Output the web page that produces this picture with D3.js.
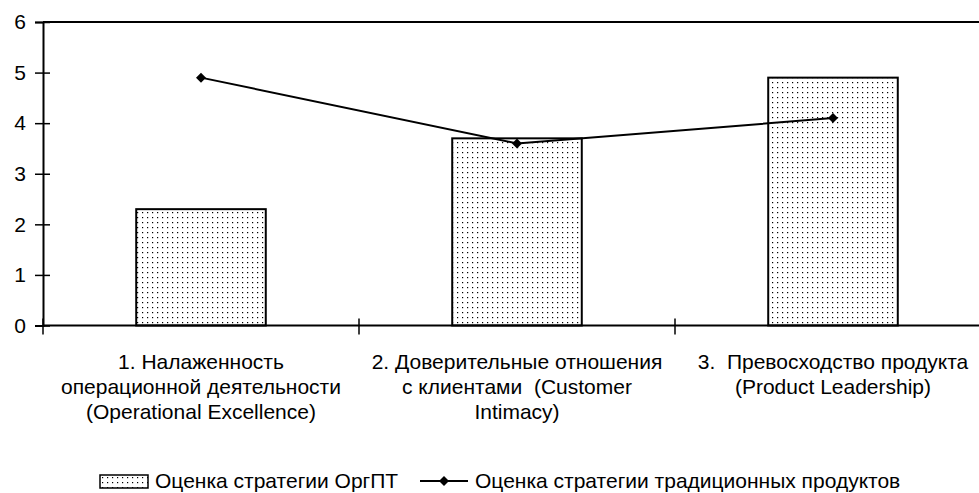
<!DOCTYPE html>
<html>
<head>
<meta charset="utf-8">
<script src="https://cdn.jsdelivr.net/npm/d3@7"></script>
<style>
  body { margin: 0; background: #fff; }
  svg { display: block; font-family: "Liberation Sans", Arial, sans-serif; }
  text { white-space: pre; }
</style>
</head>
<body>
<svg id="chart"></svg>
<script>
// data
var categories = ["cat1", "cat2", "cat3"];
var categoryLabels = [
    ["1. Налаженность", "операционной деятельности", "(Operational Excellence)"],
    ["2. Доверительные отношения", "с клиентами  (Customer", "Intimacy)"],
    ["3.  Превосходство продукта", "(Product Leadership)"]
];
var orgptValues = [2.3, 3.7, 4.9];
var traditionalValues = [4.9, 3.6, 4.1];
var yTicks = [0, 1, 2, 3, 4, 5, 6];
var seriesNames = ["Оценка стратегии ОргПТ", "Оценка стратегии традиционных продуктов"];

var WIDTH = 979, HEIGHT = 493;
var PLOT_LEFT = 43, PLOT_RIGHT = 991, PLOT_TOP = 22, PLOT_BOTTOM = 325.5;
var FONT = "21px";

var svg = d3.select("#chart")
    .attr("width", WIDTH)
    .attr("height", HEIGHT);

//dot pattern for the bars
var defs = svg.append("defs");
var pat = defs.append("pattern")
    .attr("id", "dots")
    .attr("patternUnits", "userSpaceOnUse")
    .attr("width", 5)
    .attr("height", 5);
pat.append("rect").attr("width", 5).attr("height", 5).style("fill", "#fff");
pat.append("rect").attr("x", 2).attr("y", 2).attr("width", 1.2).attr("height", 1.2).style("fill", "#000");

var x = d3.scaleBand()
    .domain(categories)
    .range([PLOT_LEFT, PLOT_RIGHT])
    .paddingInner(0.59)
    .paddingOuter(0.295);

var y = d3.scaleLinear()
    .domain([0, 6])
    .range([PLOT_BOTTOM, PLOT_TOP]);

//plot frame (right side falls outside the picture)
svg.append("line")
    .attr("x1", PLOT_LEFT).attr("x2", PLOT_RIGHT)
    .attr("y1", PLOT_TOP).attr("y2", PLOT_TOP)
    .style("stroke", "#000").style("stroke-width", 2);

//bars
svg.selectAll("rect.bar")
    .data(orgptValues)
    .enter().append("rect")
    .attr("class", "bar")
    .attr("x", function (d, i) { return x(categories[i]); })
    .attr("width", x.bandwidth())
    .attr("y", function (d) { return y(d); })
    .attr("height", function (d) { return y(0) - y(d); })
    .style("fill", "url(#dots)")
    .style("stroke", "#000")
    .style("stroke-width", 2);

//y axis
var yAxis = svg.append("g")
    .attr("transform", "translate(" + PLOT_LEFT + ",0)")
    .call(d3.axisLeft(y).tickValues(yTicks).tickFormat(d3.format("d")).tickSize(8).tickPadding(9));
yAxis.select(".domain").style("stroke", "#000").style("stroke-width", 2);
yAxis.selectAll(".tick line").attr("x1", 7).style("stroke", "#000").style("stroke-width", 1.5);
yAxis.selectAll(".tick text")
    .style("font-size", FONT)
    .style("fill", "#000")
    .style("font-family", "'Liberation Sans', Arial, sans-serif");

//x axis line
svg.append("line")
    .attr("x1", PLOT_LEFT).attr("x2", PLOT_RIGHT)
    .attr("y1", y(0)).attr("y2", y(0))
    .style("stroke", "#000").style("stroke-width", 2);

//category boundary ticks
var bounds = [PLOT_LEFT].concat(categories.map(function (c) {
    return x(c) + x.bandwidth() / 2 + x.step() / 2;
}));
svg.selectAll("line.xtick")
    .data(bounds)
    .enter().append("line")
    .attr("class", "xtick")
    .attr("x1", function (d) { return d; })
    .attr("x2", function (d) { return d; })
    .attr("y1", y(0) - 7)
    .attr("y2", y(0) + 9)
    .style("stroke", "#000").style("stroke-width", 1.5);

//category labels
var labels = svg.selectAll("text.cat")
    .data(categoryLabels)
    .enter().append("text")
    .attr("class", "cat")
    .attr("x", function (d, i) { return x(categories[i]) + x.bandwidth() / 2; })
    .attr("y", 369)
    .style("text-anchor", "middle")
    .style("font-size", FONT)
    .style("fill", "#000");
labels.selectAll("tspan")
    .data(function (d) { return d; })
    .enter().append("tspan")
    .attr("x", function () { return d3.select(this.parentNode).attr("x"); })
    .attr("dy", function (d, i) { return i === 0 ? 0 : 25; })
    .text(function (d) { return d; });

//line series
var line = d3.line()
    .x(function (d, i) { return x(categories[i]) + x.bandwidth() / 2; })
    .y(function (d) { return y(d); });
svg.append("path")
    .datum(traditionalValues)
    .attr("d", line)
    .style("fill", "none")
    .style("stroke", "#000")
    .style("stroke-width", 2);

var diamond = d3.symbol().type(d3.symbolSquare).size(50);
svg.selectAll("path.marker")
    .data(traditionalValues)
    .enter().append("path")
    .attr("class", "marker")
    .attr("d", diamond)
    .attr("transform", function (d, i) {
        return "translate(" + (x(categories[i]) + x.bandwidth() / 2) + "," + y(d) + ") rotate(45)";
    })
    .style("fill", "#000");

//legend
var legend = svg.append("g").attr("class", "legend");
legend.append("rect")
    .attr("x", 100).attr("y", 475)
    .attr("width", 48).attr("height", 13)
    .style("fill", "url(#dots)")
    .style("stroke", "#000").style("stroke-width", 1.5);
legend.append("text")
    .attr("x", 155).attr("y", 488)
    .style("font-size", FONT)
    .text(seriesNames[0]);
legend.append("line")
    .attr("x1", 420).attr("x2", 468)
    .attr("y1", 481).attr("y2", 481)
    .style("stroke", "#000").style("stroke-width", 2);
legend.append("path")
    .attr("d", diamond)
    .attr("transform", "translate(444,481) rotate(45)")
    .style("fill", "#000");
legend.append("text")
    .attr("x", 475).attr("y", 488)
    .style("font-size", FONT)
    .text(seriesNames[1]);
</script>
</body>
</html>
